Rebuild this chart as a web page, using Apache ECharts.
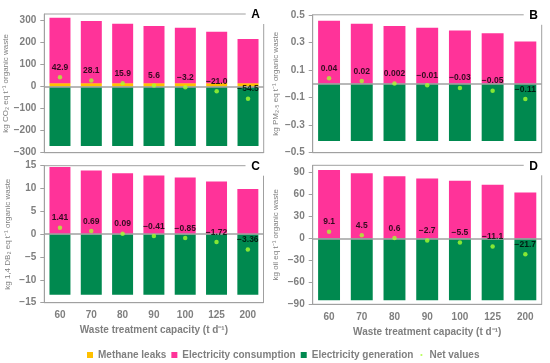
<!DOCTYPE html>
<html><head><meta charset="utf-8">
<script src="https://cdn.jsdelivr.net/npm/echarts@6/dist/echarts.min.js"></script>
<style>html,body{margin:0;padding:0;background:#fff}#c{width:550px;height:363px}</style>
</head><body><div id="c"></div><script>
// ---- data ----
const categories = ['60', '70', '80', '90', '100', '125', '200'];

const methaneA = [16, 16, 16, 16, 16, 16, 16];
const consA    = [297, 282, 270, 260, 251, 233, 200];
const genA     = [-270, -270, -270, -270, -270, -270, -270];
const netA     = [42.9, 28.1, 15.9, 5.6, -3.2, -21.0, -54.5];

const methaneB = [0, 0, 0, 0, 0, 0, 0];
const consB    = [0.456, 0.436, 0.418, 0.406, 0.386, 0.366, 0.306];
const genB     = [-0.416, -0.416, -0.416, -0.416, -0.416, -0.416, -0.416];
const netB     = [0.04, 0.02, 0.002, -0.01, -0.03, -0.05, -0.11];

const methaneC = [0, 0, 0, 0, 0, 0, 0];
const consC    = [14.69, 13.97, 13.37, 12.87, 12.43, 11.56, 9.92];
const genC     = [-13.28, -13.28, -13.28, -13.28, -13.28, -13.28, -13.28];
const netC     = [1.41, 0.69, 0.09, -0.41, -0.85, -1.72, -3.36];

const methaneD = [0, 0, 0, 0, 0, 0, 0];
const consD    = [93.6, 89.0, 85.1, 81.8, 79.0, 73.4, 62.8];
const genD     = [-84.5, -84.5, -84.5, -84.5, -84.5, -84.5, -84.5];
const netD     = [9.1, 4.5, 0.6, -2.7, -5.5, -11.1, -21.7];

const yTicksA = {min: -300, max: 330, interval: 100};
const yTicksB = {min: -0.5, max: 0.5, interval: 0.2};
const yTicksC = {min: -15, max: 15, interval: 5};
const yTicksD = {min: -90, max: 100, interval: 30};

const seriesNames = ['Methane leaks', 'Electricity consumption', 'Electricity generation', 'Net values'];
const xTitle = 'Waste treatment capacity (t d\u207B\u00B9)';

// ---- styling / layout ----
const COL = {meth: '#FFC000', cons: '#FF3399', gen: '#00894F', net: '#A6FF2E'};
const GRAY = '#7f7f7f', LINE = '#a0a0a0';
const FONT = 'Liberation Sans, Arial, sans-serif';
const minus = s => String(s).replace(/-/g, '\u2212');

const panels = [
  {letter: 'A', meth: methaneA, cons: consA, gen: genA, net: netA, ticks: yTicksA,
   yName: 'kg CO\u2082 eq t\u207B\u00B9 organic waste', showX: false, hideMax: true,
   grid: {left: 44.3, top: 14, width: 219.4, height: 138.7}, fmtY: v => minus(v), fmtN: v => minus(v.toFixed(1))},
  {letter: 'B', meth: methaneB, cons: consB, gen: genB, net: netB, ticks: yTicksB,
   yName: 'kg PM\u2082.\u2085 eq t\u207B\u00B9 organic waste', showX: false, hideMax: false,
   grid: {left: 312.7, top: 14.8, width: 229, height: 137.9}, fmtY: v => minus(v.toFixed(1)), fmtN: v => minus(String(v))},
  {letter: 'C', meth: methaneC, cons: consC, gen: genC, net: netC, ticks: yTicksC,
   yName: 'kg 1,4 DB\u2082 eq t\u207B\u00B9 organic waste', showX: true, hideMax: false,
   grid: {left: 44.3, top: 165.7, width: 219.2, height: 137}, fmtY: v => minus(v), fmtN: v => minus(v.toFixed(2))},
  {letter: 'D', meth: methaneD, cons: consD, gen: genD, net: netD, ticks: yTicksD,
   yName: 'kg oil eq t\u207B\u00B9 organic waste', showX: true, hideMax: true,
   grid: {left: 312.7, top: 165.3, width: 229, height: 139}, fmtY: v => minus(v), fmtN: v => minus(v.toFixed(1))}
];

const grid = [], xAxis = [], yAxis = [], series = [], graphic = [];
panels.forEach((p, i) => {
  grid.push(Object.assign({show: true, borderColor: LINE, borderWidth: 1, backgroundColor: 'transparent'}, p.grid));
  xAxis.push({
    type: 'category', gridIndex: i, data: categories,
    axisLine: {show: true, onZero: false, lineStyle: {color: LINE, width: 1}},
    axisTick: {show: false},
    axisLabel: {show: p.showX, color: GRAY, fontSize: 10, fontWeight: 'bold', fontFamily: FONT, margin: 8},
    name: p.showX ? xTitle : '', nameLocation: 'middle', nameGap: 23,
    nameTextStyle: {color: GRAY, fontSize: 10, fontWeight: 'bold', fontFamily: FONT}
  });
  yAxis.push({
    type: 'value', gridIndex: i, min: p.ticks.min, max: p.ticks.max, interval: p.ticks.interval,
    axisLine: {show: true, lineStyle: {color: LINE, width: 1}},
    axisTick: {show: true, length: 4, lineStyle: {color: LINE}},
    splitLine: {show: false},
    axisLabel: {color: GRAY, fontSize: 10, fontWeight: 'bold', fontFamily: FONT, margin: 8,
      showMaxLabel: !p.hideMax, formatter: p.fmtY},
    name: p.yName, nameLocation: 'middle', nameRotate: 90, nameGap: 33,
    nameTextStyle: {color: GRAY, fontSize: 8, fontFamily: FONT}
  });
  const st = 's' + i;
  series.push({name: seriesNames[0], type: 'bar', xAxisIndex: i, yAxisIndex: i, stack: st, data: p.meth,
    barCategoryGap: '33%', itemStyle: {color: COL.meth}});
  series.push({name: seriesNames[1], type: 'bar', xAxisIndex: i, yAxisIndex: i, stack: st, data: p.cons,
    barCategoryGap: '33%', itemStyle: {color: COL.cons}});
  series.push({name: seriesNames[2], type: 'bar', xAxisIndex: i, yAxisIndex: i, stack: st, data: p.gen,
    barCategoryGap: '33%', itemStyle: {color: COL.gen},
    markLine: {silent: true, symbol: 'none', label: {show: false}, animation: false,
      lineStyle: {color: LINE, width: 1.5, type: 'solid'}, data: [{yAxis: 0}]}});
  series.push({name: seriesNames[3], type: 'scatter', xAxisIndex: i, yAxisIndex: i, data: p.net, z: 5,
    symbol: 'circle', symbolSize: 4.5, itemStyle: {color: COL.net},
    label: {show: true, position: 'top', distance: 3, color: '#000', fontSize: 8.5, fontWeight: 'bold', fontFamily: FONT,
      formatter: o => p.fmtN(o.value)}});
  const g = p.grid, cx = g.left + g.width, cy = g.top;
  graphic.push({type: 'rect', z: 100, silent: true, shape: {x: cx - 18, y: cy - 9, width: 24, height: 19}, style: {fill: '#fff'}});
  graphic.push({type: 'text', z: 101, silent: true, x: cx - 8, y: cy + 1,
    style: {text: p.letter, fill: '#000', font: 'bold 12px ' + FONT, textAlign: 'center', textVerticalAlign: 'middle'}});
});

const chart = echarts.init(document.getElementById('c'), null, {renderer: 'canvas'});
chart.setOption({
  animation: false,
  backgroundColor: '#fff',
  grid, xAxis, yAxis, series, graphic,
  legend: {
    left: 82, top: 345, itemWidth: 6, itemHeight: 6, itemGap: 5, icon: 'rect',
    textStyle: {color: GRAY, fontSize: 10, fontWeight: 'bold', fontFamily: FONT},
    data: [
      {name: seriesNames[0]}, {name: seriesNames[1]}, {name: seriesNames[2]},
      {name: seriesNames[3], icon: 'path://M0 0L0 0M10 10L10 10M3.2 5A1.8 1.8 0 1 0 6.8 5A1.8 1.8 0 1 0 3.2 5Z'}
    ]
  }
});
</script></body></html>
